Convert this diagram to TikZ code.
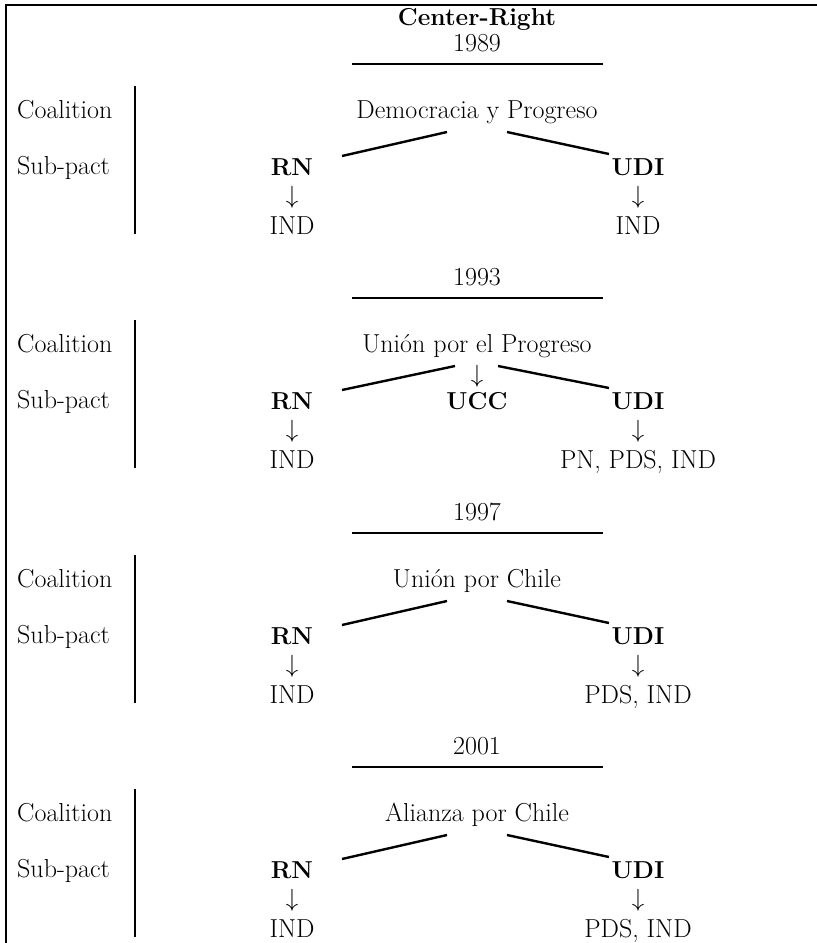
\documentclass[tikz,border=0pt]{standalone}
\usepackage{fontspec}
\newcommand{\RegFont}{\fontsize{26}{30}\selectfont}
\newcommand{\BoldFont}{\fontsize{24.5}{29}\selectfont\bfseries}
\newcommand{\PactBlock}[7]{%
 \begin{scope}[yshift=-#2pt]
  \node[txt] (year#1) at (477,51) {#3};
  \coordinate (yl#1) at (352,64);
  \coordinate (yr#1) at (603,64);
  \draw[rulel] (yl#1) -- (yr#1);
  \coordinate (bt#1) at (135,86);
  \coordinate (bb#1) at (135,234);
  \draw[barl] (bt#1) -- (bb#1);
  \node[lbl] (coalab#1) at (17,118) {Coalition};
  \node[lbl] (sublab#1) at (17,174) {Sub-pact};
  \node[txt] (coal#1) at (477,118) {#4};
  \node[bld] (rn#1) at (292,175) {RN};
  \node[arr] (rnarr#1) at (292,197) {$\downarrow$};
  \node[txt] (rnind#1) at (292,234) {IND};
  \node[bld] (udi#1) at (638,175) {UDI};
  \node[arr] (udiarr#1) at (638,197) {$\downarrow$};
  \node[txt] (udiind#1) at (638,234) {#5};
  \coordinate (ll#1) at (342,156);
  \coordinate (lu#1) at (#6,132);
  \coordinate (ru#1) at (#7,132);
  \coordinate (rl#1) at (609,154);
  \draw[diag] (lu#1) -- (ll#1);
  \draw[diag] (ru#1) -- (rl#1);
 \end{scope}}
\begin{document}
\begin{tikzpicture}[x=1pt,y=-1pt,
  every node/.style={inner sep=0pt, font=\RegFont},
  txt/.style={anchor=base},
  lbl/.style={anchor=base west},
  bld/.style={anchor=base, font=\BoldFont},
  arr/.style={anchor=center},
  rulel/.style={line width=2.2pt},
  barl/.style={line width=2pt},
  diag/.style={line width=2.4pt},
  frame/.style={line width=2pt}]
\useasboundingbox (0,0) rectangle (817,943);
\coordinate (ftl) at (6,5);
\coordinate (ftr) at (817,5);
\coordinate (fbl) at (6,943);
\draw[frame] (ftr) -- (ftl) -- (fbl);
\node[bld] (title) at (477,25) {Center-Right};
\PactBlock{a}{0}{1989}{Democracia y Progreso}{IND}{447}{507}
\PactBlock{b}{234}{1993}{Unión por el Progreso}{PN, PDS, IND}{455}{498}
\PactBlock{c}{469}{1997}{Unión por Chile}{PDS, IND}{447}{507}
\PactBlock{d}{703}{2001}{Alianza por Chile}{PDS, IND}{447}{507}
\node[arr] (uccarr) at (477,376) {$\downarrow$};
\node[bld] (ucc) at (477,409) {UCC};
\end{tikzpicture}
\end{document}
